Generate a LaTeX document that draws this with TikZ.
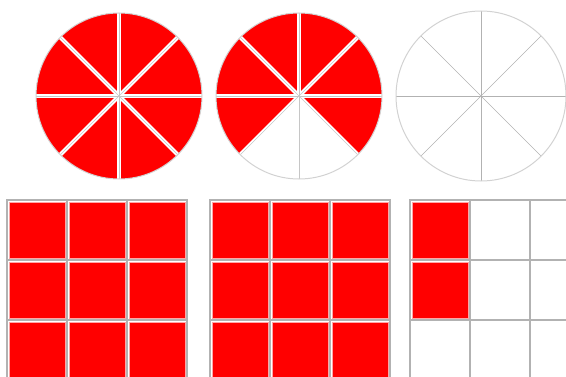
\documentclass[tikz,border=0pt]{standalone}

\begin{document}
\begin{tikzpicture}[x=1pt, y=1pt,
    sector/.style={fill=red},
    divider/.style={draw=white, line width=4pt},
    spoke/.style={draw=gray!45, line width=0.7pt},
    rim/.style={draw=gray!35, line width=1pt},
    cell/.style={fill=red, draw=red!35, line width=0.5pt},
    gridline/.style={draw=gray!60, line width=2.6pt}]
    \clip (0,0) rectangle (566,376);

    % circles
    \coordinate (c1) at (119,280);
    \coordinate (c2) at (299,280);
    \coordinate (c3) at (481,280);

    \foreach \a in {0,45,...,315}
      \fill[sector] (c1) -- ++(\a:83) arc[start angle=\a, end angle=\a+45, radius=83] -- cycle;
    \foreach \a in {0,45,90,135,180,315}
      \fill[sector] (c2) -- ++(\a:83) arc[start angle=\a, end angle=\a+45, radius=83] -- cycle;

    \foreach \c in {c1,c2} {
      \foreach \a in {0,45,...,315}
        \draw[divider] (\c) -- ++(\a:84);
      \foreach \a in {0,45,...,315}
        \draw[spoke] (\c) -- ++(\a:83);
      \draw[rim] (\c) circle[radius=83];
    }
    \foreach \a in {0,45,...,315}
      \draw[spoke, draw=gray!60] (c3) -- ++(\a:85);
    \draw[rim] (c3) circle[radius=85];

    % grids
    \foreach \gx/\n in {7/9, 210/9, 410/2} {
      \foreach \i in {0,1,2}
        \foreach \j in {0,1,2} {
          \pgfmathtruncatemacro{\k}{\i*3+\j}
          \ifnum\k<\n
            \fill[cell] (\gx+\i*60+2, 176-\j*60-2) rectangle ++(56,-56);
          \fi
        }
      \foreach \k in {0,...,3} {
        \draw[gridline] (\gx+\k*60, 177) -- ++(0,-190);
        \draw[gridline] (\gx-1, 176-\k*60) -- ++(182,0);
      }
    }
\end{tikzpicture}
\end{document}
